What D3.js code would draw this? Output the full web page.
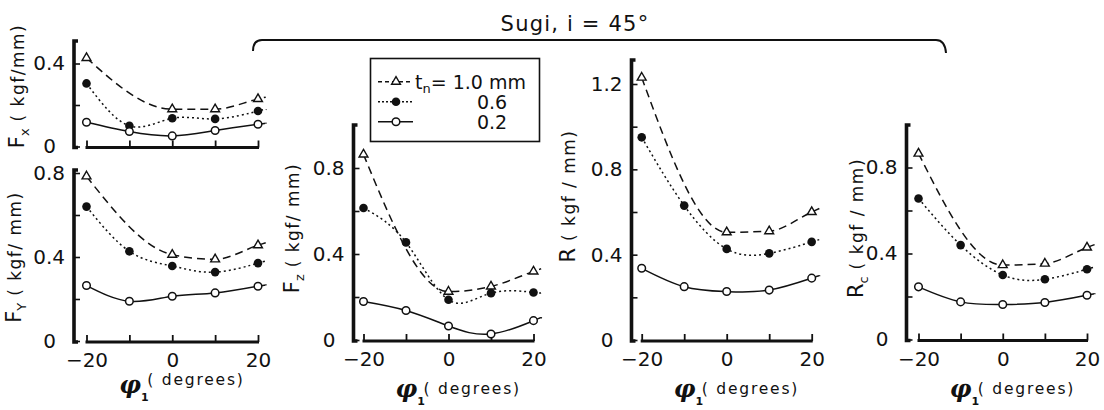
<!DOCTYPE html>
<html>
<head>
<meta charset="utf-8">
<script src="https://cdn.jsdelivr.net/npm/d3@7"></script>
<style>
body{margin:0;background:#fff;}
text{font-family:"DejaVu Sans",sans-serif;fill:#111;}
</style>
</head>
<body>
<svg id="chart" width="1104" height="410"></svg>
<script>
// cutting angle phi1 (degrees)
var angles = [-20, -10, 0, 10, 20];
var thicknesses = ['1.0', '0.6', '0.2'];

// Fx (kgf/mm)
var fx10 = [0.427, null, 0.18, 0.18, 0.229];
var fx06 = [0.304, 0.10, 0.136, 0.133, 0.171];
var fx02 = [0.117, 0.072, 0.051, 0.077, 0.107];
// Fy
var fy10 = [0.784, null, 0.411, 0.389, 0.456];
var fy06 = [0.64, 0.427, 0.357, 0.328, 0.371];
var fy02 = [0.264, 0.189, 0.213, 0.229, 0.261];
// Fz
var fz10 = [0.863, null, 0.225, 0.249, 0.319];
var fz06 = [0.614, 0.454, 0.187, 0.218, 0.221];
var fz02 = [0.179, 0.137, 0.065, 0.028, 0.09];
// R
var r10 = [1.23, null, 0.505, 0.51, 0.60];
var r06 = [0.95, 0.63, 0.427, 0.406, 0.46];
var r02 = [0.336, 0.25, 0.227, 0.234, 0.29];
// Rc
var rc10 = [0.865, null, 0.346, 0.353, 0.428];
var rc06 = [0.656, 0.439, 0.30, 0.28, 0.327];
var rc02 = [0.245, 0.175, 0.163, 0.172, 0.206];

var yTicks04 = [0, 0.2, 0.4];
var yTicks08 = [0, 0.2, 0.4, 0.6, 0.8];
var yTicks12 = [0, 0.2, 0.4, 0.6, 0.8, 1.0, 1.2];
var xTickLabels = {'-20': '\u221220', '0': '0', '20': '20'};

var title = 'Sugi,  i = 45\u00b0';

var svg = d3.select('#chart');

// layout of each small plot
var panels = [
    {main: 'F', sub: 'x', unit: ' ( kgf/mm)', series: [fx10, fx06, fx02], ticks: yTicks04, yMax: 0.4,
     ax: 74, y0: 146.5, yM: 63.5, top: 41, x0: 86.5, x1: 258, lx: 18, ly: 86, xlab: false},
    {main: 'F', sub: 'Y', unit: ' ( kgf/ mm)', series: [fy10, fy06, fy02], ticks: yTicks08, yMax: 0.8,
     ax: 74, y0: 341, yM: 173, top: 170, x0: 86.5, x1: 258, lx: 15, ly: 257, xlab: true, phiY: 393, degY: 385},
    {main: 'F', sub: 'z', unit: ' ( kgf/ mm)', series: [fz10, fz06, fz02], ticks: yTicks08, yMax: 0.8,
     ax: 353.5, y0: 340, yM: 168, top: 125, x0: 363.5, x1: 533.5, lx: 293, ly: 228, xlab: true, phiY: 397, degY: 394},
    {main: 'R', sub: '', unit: '  ( kgf / mm)', series: [r10, r06, r02], ticks: yTicks12, yMax: 1.2,
     ax: 631.5, y0: 340, yM: 84, top: 60, x0: 641.7, x1: 811.7, lx: 569, ly: 196, xlab: true, phiY: 397, degY: 394},
    {main: 'R', sub: 'c', unit: ' ( kgf / mm)', series: [rc10, rc06, rc02], ticks: yTicks08, yMax: 0.8,
     ax: 906.5, y0: 339.5, yM: 167.5, top: 125, x0: 918.5, x1: 1087, lx: 857, ly: 228, xlab: true, phiY: 397, degY: 394}
];

var styles = {
    '1.0': {dash: '8,5', sym: 'tri'},
    '0.6': {dash: '2,3', sym: 'dot'},
    '0.2': {dash: null, sym: 'open'}
};

function drawMarker(g, sym, cx, cy) {
    if (sym === 'tri') {
        g.append('path')
            .attr('d', d3.symbol(d3.symbolTriangle, 34)())
            .attr('transform', 'translate(' + cx + ',' + cy + ')')
            .attr('fill', '#fff').attr('stroke', '#111').attr('stroke-width', 1.4);
    } else if (sym === 'dot') {
        g.append('circle').attr('cx', cx).attr('cy', cy).attr('r', 4.3).attr('fill', '#111');
    } else {
        g.append('circle').attr('cx', cx).attr('cy', cy).attr('r', 3.8)
            .attr('fill', '#fff').attr('stroke', '#111').attr('stroke-width', 1.5);
    }
}

panels.forEach(function(p) {
    var x = d3.scaleLinear().domain([-20, 20]).range([p.x0, p.x1]);
    var y = d3.scaleLinear().domain([0, p.yMax]).range([p.y0, p.yM]);
    var g = svg.append('g');

    // y axis ticks + labels
    var yAxis = d3.axisLeft(y).tickValues(p.ticks).tickSize(-6).tickPadding(9)
        .tickFormat(function(d) {
            var v = Math.round(d * 10) / 10;
            return (Math.round(v * 10) % 4 === 0) ? (v === 0 ? '0' : v.toFixed(1)) : '';
        });
    var ya = g.append('g').attr('transform', 'translate(' + p.ax + ',0)').call(yAxis);
    ya.select('.domain').remove();
    ya.selectAll('.tick line').attr('stroke', '#111').attr('stroke-width', 1.6);
    ya.selectAll('.tick text').attr('font-size', 20).attr('fill', '#111')
        .attr('font-family', '"DejaVu Sans",sans-serif')
        .attr('dx', function(d) { return d === 0 ? -9 : 0; });
    // thick y axis line
    g.append('path')
        .attr('d', 'M' + (p.ax + 4) + ',' + p.top + 'H' + p.ax + 'V' + (p.y0 + 1) + 'H' + (p.ax + 4))
        .attr('fill', 'none').attr('stroke', '#111').attr('stroke-width', 3.6);

    // x axis
    var xAxis = d3.axisBottom(x).tickValues(angles).tickSize(-7).tickPadding(11)
        .tickFormat(function(d) { return p.xlab ? (xTickLabels[d] || '') : ''; });
    var xa = g.append('g').attr('transform', 'translate(0,' + (p.y0 + 1) + ')').call(xAxis);
    xa.select('.domain').remove();
    xa.selectAll('.tick line').attr('stroke', '#111').attr('stroke-width', 1.8);
    xa.selectAll('.tick text').attr('font-size', 20).attr('fill', '#111')
        .attr('font-family', '"DejaVu Sans",sans-serif');
    g.append('line')
        .attr('x1', x(-20) - 1).attr('x2', x(20) + 1)
        .attr('y1', p.y0 + 1).attr('y2', p.y0 + 1)
        .attr('stroke', '#111').attr('stroke-width', 3);

    // curves: natural spline for full series, monotone where a point is missing
    p.series.forEach(function(vals, i) {
        var st = styles[thicknesses[i]];
        var pts = angles.map(function(a, j) { return {a: a, v: vals[j]}; })
            .filter(function(d) { return d.v != null; });
        var n = pts.length;
        var slope = (pts[n - 1].v - pts[n - 2].v) / (pts[n - 1].a - pts[n - 2].a);
        var ext = pts.concat([{a: 21.8, v: pts[n - 1].v + slope * 1.8}]);
        var line = d3.line().x(function(d) { return x(d.a); }).y(function(d) { return y(d.v); })
            .curve(n < angles.length ? d3.curveMonotoneX : d3.curveNatural);
        g.append('path').datum(ext).attr('d', line)
            .attr('fill', 'none').attr('stroke', '#111').attr('stroke-width', 1.5)
            .attr('stroke-dasharray', st.dash);
        pts.forEach(function(d) { drawMarker(g, st.sym, x(d.a), y(d.v)); });
    });

    // y label
    var yl = g.append('text')
        .attr('transform', 'translate(' + p.lx + ',' + p.ly + ') rotate(-90)')
        .attr('text-anchor', 'middle').attr('dy', '0.35em');
    yl.append('tspan').attr('font-size', 21).text(p.main);
    if (p.sub) yl.append('tspan').attr('font-size', 13).attr('dy', 5).text(p.sub);
    yl.append('tspan').attr('font-size', 17).attr('letter-spacing', 1.5)
        .attr('dy', p.sub ? -5 : 0).text(p.unit);

    // x title: phi with subscript 1, then unit
    if (p.xlab) {
        var cx = (p.x0 + p.x1) / 2;
        var xt = g.append('text').attr('x', cx - 53).attr('y', p.phiY).attr('font-weight', 'bold');
        xt.append('tspan').attr('font-size', 24).attr('font-style', 'italic')
            .attr('font-family', '"DejaVu Serif",serif').text('\u03c6');
        xt.append('tspan').attr('font-size', 11).attr('dy', 8).text('1');
        g.append('text').attr('x', cx - 25).attr('y', p.degY)
            .attr('font-size', 15.5).attr('letter-spacing', 1.8).text('( degrees)');
    }
});

// header with brace
svg.append('text').attr('x', 575).attr('y', 31).attr('text-anchor', 'middle')
    .attr('font-size', 21).attr('letter-spacing', 1.2).text(title);
svg.append('path')
    .attr('d', 'M253,51 Q253,40 262,40 H936 Q945,40 946,53')
    .attr('fill', 'none').attr('stroke', '#111').attr('stroke-width', 2);

// legend
var lg = svg.append('g');
lg.append('rect').attr('x', 370.5).attr('y', 58.5).attr('width', 169).attr('height', 83)
    .attr('fill', '#fff').attr('stroke', '#111').attr('stroke-width', 1.6);
var legendLabels = ['1.0', '0.6', '0.2'];
thicknesses.forEach(function(t, i) {
    var st = styles[t];
    var ly = 81.7 + i * 20;
    lg.append('line').attr('x1', 378).attr('x2', 413).attr('y1', ly).attr('y2', ly)
        .attr('stroke', '#111').attr('stroke-width', 1.5)
        .attr('stroke-dasharray', st.dash ? (i === 0 ? '4,3' : '2,2') : null);
    drawMarker(lg, st.sym, 396, ly);
    if (i === 0) {
        var tx = lg.append('text').attr('x', 415).attr('y', ly + 7).attr('font-size', 19);
        tx.append('tspan').text('t');
        tx.append('tspan').attr('font-size', 13).attr('dy', 4).text('n');
        tx.append('tspan').attr('dy', -4).text('= ' + legendLabels[i] + ' mm');
    } else {
        lg.append('text').attr('x', 492).attr('y', ly + 7).attr('text-anchor', 'middle')
            .attr('font-size', 19).text(legendLabels[i]);
    }
});
</script>
</body>
</html>
